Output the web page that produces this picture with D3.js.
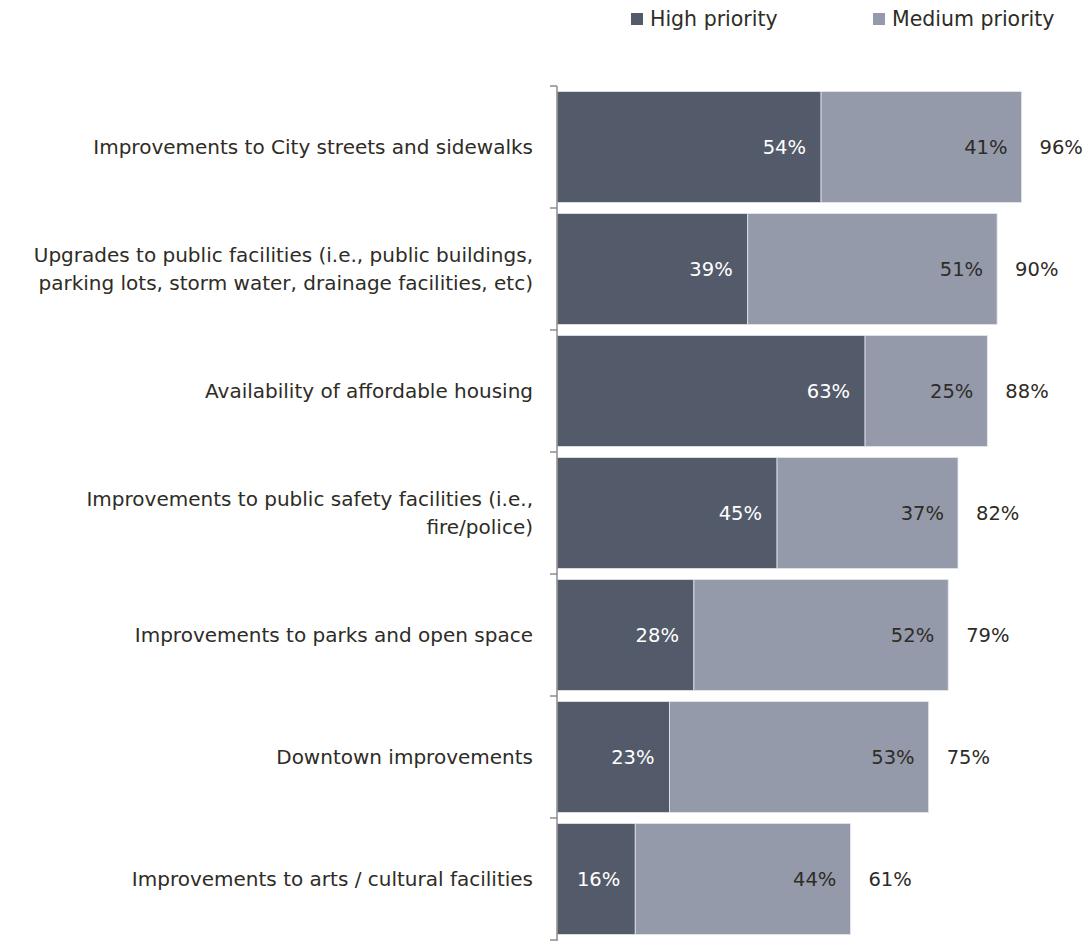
<!DOCTYPE html>
<html>
<head>
<meta charset="utf-8">
<script src="https://cdn.jsdelivr.net/npm/d3@7"></script>
<style>
  html, body { margin: 0; padding: 0; background: #fff; }
  svg { display: block; }
  text { font-family: Tahoma, "DejaVu Sans", Verdana, sans-serif; }
</style>
</head>
<body>
<svg id="chart" width="1088" height="941"></svg>
<script>
// Survey items, top to bottom
const categories = [
  ["Improvements to City streets and sidewalks"],
  ["Upgrades to public facilities (i.e., public buildings,", "parking lots, storm water, drainage facilities, etc)"],
  ["Availability of affordable housing"],
  ["Improvements to public safety facilities (i.e.,", "fire/police)"],
  ["Improvements to parks and open space"],
  ["Downtown improvements"],
  ["Improvements to arts / cultural facilities"]
];
const highPriority   = [54, 39, 63, 45, 28, 23, 16];
const mediumPriority = [41, 51, 25, 37, 52, 53, 44];
const totalPriority  = [96, 90, 88, 82, 79, 75, 61];
const seriesNames = ["High priority", "Medium priority"];
const seriesColors = ["#535a6a", "#959aab"];

const svg = d3.select("#chart");
const plotLeft = 557, plotTop = 86, plotBottom = 940;
const fs = 19.5;

const x = d3.scaleLinear().domain([0, 100]).range([plotLeft, plotLeft + 489]);
const y = d3.scaleBand()
  .domain(d3.range(categories.length))
  .range([plotTop, plotBottom])
  .paddingInner(0.09)
  .paddingOuter(0.045);

const rows = categories.map((c, i) => ({
  i, label: c, high: highPriority[i], medium: mediumPriority[i], total: totalPriority[i]
}));

// Stacked segments
const g = svg.append("g");
const bar = g.selectAll("g.row").data(rows).join("g").attr("class", "row");

bar.append("rect")
  .attr("x", x(0))
  .attr("y", d => y(d.i))
  .attr("width", d => x(d.high) - x(0))
  .attr("height", y.bandwidth())
  .attr("fill", seriesColors[0])
  .attr("stroke", "#e4e6ec").attr("stroke-width", 0.8);

bar.append("rect")
  .attr("x", d => x(d.high))
  .attr("y", d => y(d.i))
  .attr("width", d => x(d.high + d.medium) - x(d.high))
  .attr("height", y.bandwidth())
  .attr("fill", seriesColors[1])
  .attr("stroke", "#e4e6ec").attr("stroke-width", 0.8);

// Value labels
const midY = d => y(d.i) + y.bandwidth() / 2;
bar.append("text")
  .attr("x", d => x(d.high) - 15)
  .attr("y", midY)
  .attr("dy", "0.35em")
  .attr("text-anchor", "end")
  .attr("font-size", fs)
  .attr("fill", "#ffffff")
  .text(d => d.high + "%");

bar.append("text")
  .attr("x", d => x(d.high + d.medium) - 14)
  .attr("y", midY)
  .attr("dy", "0.35em")
  .attr("text-anchor", "end")
  .attr("font-size", fs)
  .attr("fill", "#2e2c26")
  .text(d => d.medium + "%");

bar.append("text")
  .attr("x", d => x(d.high + d.medium) + 18)
  .attr("y", midY)
  .attr("dy", "0.35em")
  .attr("text-anchor", "start")
  .attr("font-size", fs)
  .attr("fill", "#2e2c26")
  .text(d => d.total + "%");

// Category labels
bar.append("text")
  .attr("text-anchor", "end")
  .attr("font-size", 20)
  .attr("fill", "#2e2c26")
  .each(function(d) {
    const t = d3.select(this);
    const lh = 27.5;
    const y0 = midY(d) - (d.label.length - 1) * lh / 2;
    d.label.forEach((line, k) => {
      t.append("tspan")
        .attr("x", 533)
        .attr("y", y0 + k * lh)
        .attr("dy", "0.35em")
        .text(line);
    });
  });

// Category axis: line with ticks at band boundaries
const axisG = svg.append("g");
axisG.append("line")
  .attr("x1", plotLeft).attr("x2", plotLeft)
  .attr("y1", plotTop).attr("y2", 941)
  .attr("stroke", "#8c8c8c").attr("stroke-width", 1.5);
const boundaries = d3.range(categories.length + 1).map(k => plotTop + k * (plotBottom - plotTop) / categories.length);
axisG.selectAll("line.tick").data(boundaries).join("line")
  .attr("class", "tick")
  .attr("x1", plotLeft - 7).attr("x2", plotLeft)
  .attr("y1", d => d).attr("y2", d => d)
  .attr("stroke", "#8c8c8c").attr("stroke-width", 1.5);

// Legend
const legendX = [631, 873];
const legend = svg.append("g");
seriesNames.forEach((name, k) => {
  legend.append("rect")
    .attr("x", legendX[k]).attr("y", 13)
    .attr("width", 12).attr("height", 12)
    .attr("fill", seriesColors[k]);
  legend.append("text")
    .attr("x", legendX[k] + 19).attr("y", 19)
    .attr("dy", "0.35em")
    .attr("font-size", 20.5)
    .attr("fill", "#2e2c26")
    .text(name);
});
</script>
</body>
</html>
